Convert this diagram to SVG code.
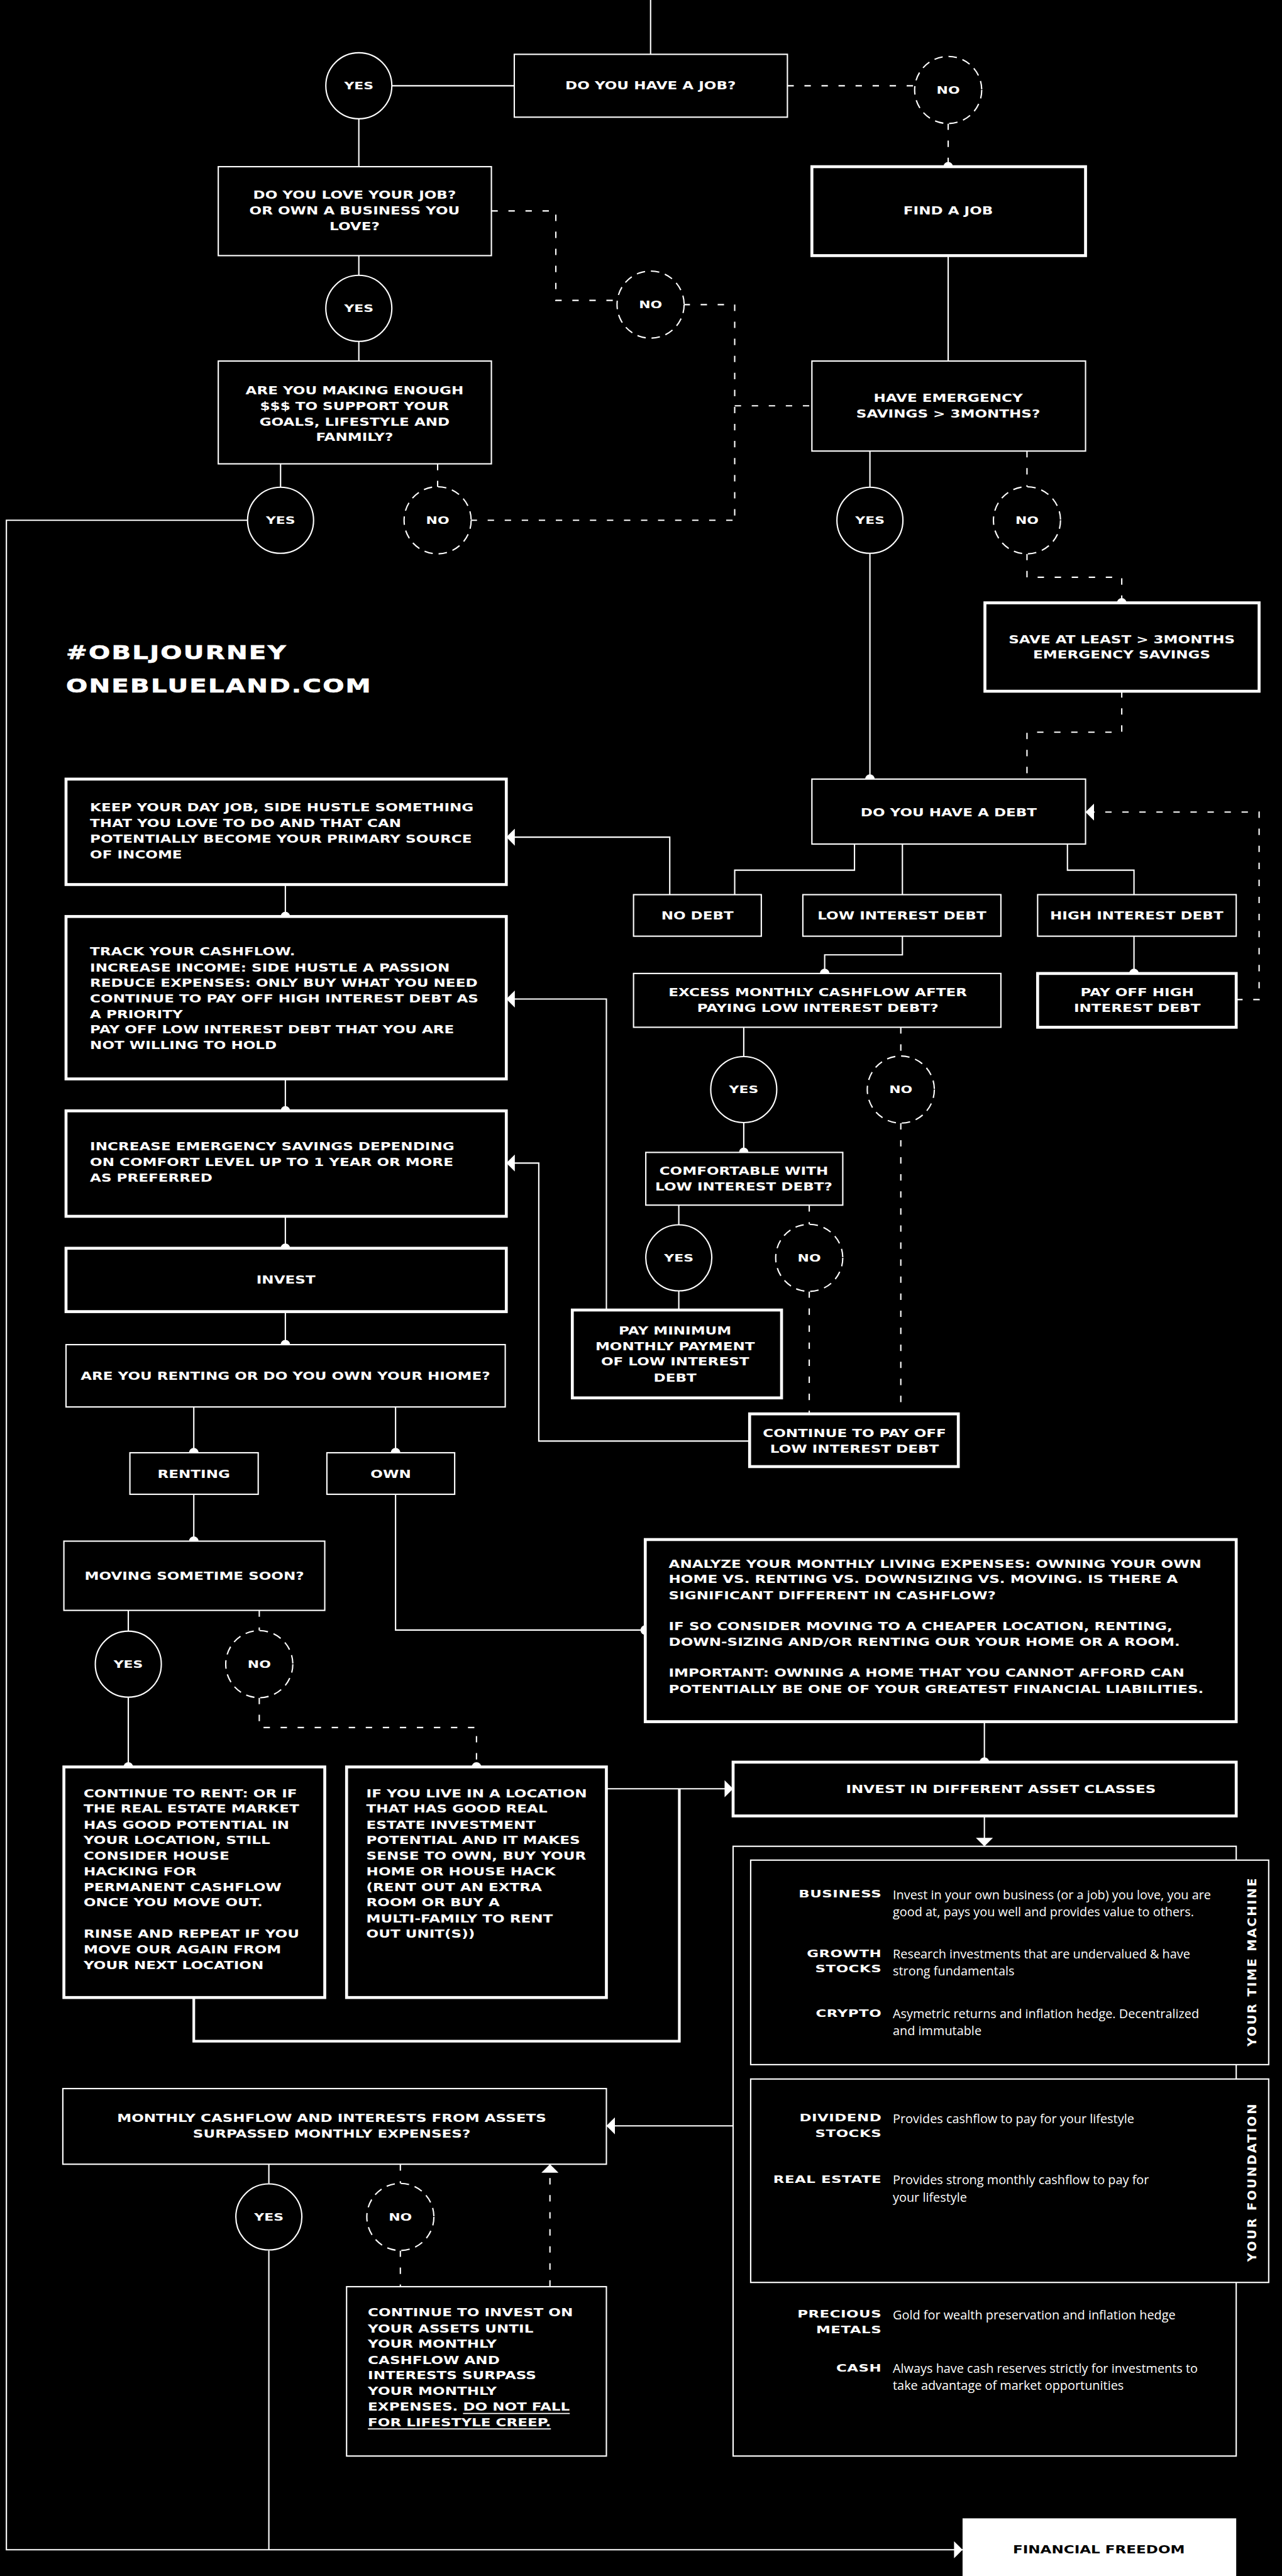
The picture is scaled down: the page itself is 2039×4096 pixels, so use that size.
<svg xmlns="http://www.w3.org/2000/svg" width="2039" height="4096" viewBox="0 0 2039 4096">
<defs>
<style>
.bx{fill:#000;stroke:#fff;stroke-width:2.5}
.bk{fill:#000;stroke:#fff;stroke-width:5.5}
.ln{fill:none;stroke:#fff;stroke-width:2.5}
.lk{fill:none;stroke:#fff;stroke-width:5}
.ds{fill:none;stroke:#fff;stroke-width:2.5;stroke-dasharray:12 20}
.yc{fill:#000;stroke:#fff;stroke-width:2.5}
.nc{fill:#000;stroke:#fff;stroke-width:2.5;stroke-dasharray:16 11}
.dot{fill:#fff}
.t{font-family:"DejaVu Sans","Liberation Sans",sans-serif;font-weight:bold;font-size:20.5px;fill:#fff;text-anchor:middle;dominant-baseline:central}
.l{text-anchor:start}
.c{font-size:19.5px}
.h{font-size:36.6px;letter-spacing:2px;stroke:#fff;stroke-width:0.8}
.lab{font-family:"DejaVu Sans","Liberation Sans",sans-serif;font-weight:bold;font-size:18.3px;fill:#fff;text-anchor:end;letter-spacing:0.4px}
.d{font-family:"Open Sans","Liberation Sans",sans-serif;font-size:23.5px;fill:#fff}
.v{font-family:"DejaVu Sans","Liberation Sans",sans-serif;font-weight:bold;font-size:23px;fill:#fff;text-anchor:middle;dominant-baseline:central}
.u{text-decoration:underline}
</style>
<marker id="ah" viewBox="0 0 16 32" refX="16" refY="16" markerWidth="16" markerHeight="32" markerUnits="userSpaceOnUse" orient="auto"><path d="M0,0 L16,16 L0,32 Z" fill="#fff"/></marker>
</defs>
<rect x="0" y="0" width="2039" height="4096" fill="#000"/>
<g transform="scale(0.84676)">

<g id="connectors">
<path class="ln" d="M1222,0 V102"/>
<path class="ln" d="M736,161 H966"/>
<path class="ln" d="M674,223 V313"/>
<path class="ln" d="M674,480 V517"/>
<path class="ln" d="M674,641 V678"/>
<path class="ln" d="M527,871 V915"/>
<path class="ln" d="M465,977 H12 V4788 H1808" marker-end="url(#ah)"/>
<path class="ln" d="M505,4226 V4788"/>
<path class="ln" d="M1781,480 V678"/>
<path class="ln" d="M1634,847 V915"/>
<path class="ln" d="M1634,1039 V1463"/>
<path class="ln" d="M1605,1585 V1634 H1380 V1680"/>
<path class="ln" d="M1695,1585 V1680"/>
<path class="ln" d="M2005,1585 V1634 H2130 V1680"/>
<path class="ln" d="M1258,1680 V1572 H951" marker-end="url(#ah)"/>
<path class="ln" d="M1695,1758 V1793 H1549 V1828"/>
<path class="ln" d="M2130,1758 V1828"/>
<path class="ln" d="M1397,1929 V1984"/>
<path class="ln" d="M1397,2108 V2164"/>
<path class="ln" d="M1275,2263 V2300"/>
<path class="ln" d="M1275,2424 V2460"/>
<path class="ln" d="M1139,2460 V1876 H951" marker-end="url(#ah)"/>
<path class="ln" d="M1408,2706 H1012 V2184 H951" marker-end="url(#ah)"/>
<path class="ln" d="M536,1661 V1721"/>
<path class="ln" d="M536,2026 V2086"/>
<path class="ln" d="M536,2284 V2344"/>
<path class="ln" d="M536,2463 V2525"/>
<path class="ln" d="M364,2642 V2728"/>
<path class="ln" d="M743,2642 V2728"/>
<path class="ln" d="M364,2806 V2894"/>
<path class="ln" d="M743,2806 V3061 H1212"/>
<path class="ln" d="M241,3024 V3063"/>
<path class="ln" d="M241,3187 V3318"/>
<path class="ln" d="M1849,3233 V3309"/>
<path class="ln" d="M1139,3359 H1377" marker-end="url(#ah)"/>
<path class="lk" d="M364,3751 V3833 H1276 V3359"/>
<path class="ln" d="M1849,3410 V3467" marker-end="url(#ah)"/>
<path class="ln" d="M1377,3992 H1139" marker-end="url(#ah)"/>
<path class="ln" d="M505,4064 V4100"/>

<path class="ds" d="M1479,161 H1719"/>
<path class="ds" d="M1781,232 V313"/>
<path class="ds" d="M923,396 H1044 V564 H1159"/>
<path class="ds" d="M1284,572 H1380 V977"/>
<path class="ds" d="M1380,762 H1525"/>
<path class="ds" d="M822,871 V914"/>
<path class="ds" d="M884,977 H1380"/>
<path class="ds" d="M1929,847 V914"/>
<path class="ds" d="M1929,1040 V1084 H2107 V1132"/>
<path class="ds" d="M2107,1298 V1375 H1929 V1463"/>
<path class="ds" d="M2322,1877 H2365 V1525 H2039" marker-end="url(#ah)"/>
<path class="ds" d="M1692,1929 V1983"/>
<path class="ds" d="M1692,2109 V2655"/>
<path class="ds" d="M1520,2263 V2299"/>
<path class="ds" d="M1520,2425 V2655"/>
<path class="ds" d="M487,3024 V3062"/>
<path class="ds" d="M487,3188 V3244 H895 V3318"/>
<path class="ds" d="M752,4064 V4100"/>
<path class="ds" d="M752,4226 V4294"/>
<path class="ds" d="M1033,4294 V4064" marker-end="url(#ah)"/>

<circle class="dot" cx="1781" cy="313" r="9"/>
<circle class="dot" cx="2107" cy="1132" r="9"/>
<circle class="dot" cx="1634" cy="1463" r="9"/>
<circle class="dot" cx="1549" cy="1828" r="9"/>
<circle class="dot" cx="2130" cy="1828" r="9"/>
<circle class="dot" cx="1397" cy="2164" r="9"/>
<circle class="dot" cx="536" cy="1721" r="9"/>
<circle class="dot" cx="536" cy="2086" r="9"/>
<circle class="dot" cx="536" cy="2344" r="9"/>
<circle class="dot" cx="536" cy="2525" r="9"/>
<circle class="dot" cx="364" cy="2728" r="9"/>
<circle class="dot" cx="743" cy="2728" r="9"/>
<circle class="dot" cx="364" cy="2894" r="9"/>
<circle class="dot" cx="1212" cy="3061" r="9"/>
<circle class="dot" cx="1849" cy="3309" r="9"/>
<circle class="dot" cx="241" cy="3318" r="9"/>
<circle class="dot" cx="895" cy="3318" r="9"/>
</g>

<g id="yes-no">
<g id="yes1"><circle class="yc" cx="674" cy="161" r="62"/><text class="t c" transform="translate(674 0) scale(1.33 1)"><tspan x="0" y="161">YES</tspan></text></g>
<g id="yes2"><circle class="yc" cx="674" cy="579" r="62"/><text class="t c" transform="translate(674 0) scale(1.33 1)"><tspan x="0" y="579">YES</tspan></text></g>
<g id="yes3"><circle class="yc" cx="527" cy="977" r="62"/><text class="t c" transform="translate(527 0) scale(1.33 1)"><tspan x="0" y="977">YES</tspan></text></g>
<g id="yes4"><circle class="yc" cx="1634" cy="977" r="62"/><text class="t c" transform="translate(1634 0) scale(1.33 1)"><tspan x="0" y="977">YES</tspan></text></g>
<g id="yes5"><circle class="yc" cx="1397" cy="2046" r="62"/><text class="t c" transform="translate(1397 0) scale(1.33 1)"><tspan x="0" y="2046">YES</tspan></text></g>
<g id="yes6"><circle class="yc" cx="1275" cy="2362" r="62"/><text class="t c" transform="translate(1275 0) scale(1.33 1)"><tspan x="0" y="2362">YES</tspan></text></g>
<g id="yes7"><circle class="yc" cx="241" cy="3125" r="62"/><text class="t c" transform="translate(241 0) scale(1.33 1)"><tspan x="0" y="3125">YES</tspan></text></g>
<g id="yes8"><circle class="yc" cx="505" cy="4163" r="62"/><text class="t c" transform="translate(505 0) scale(1.33 1)"><tspan x="0" y="4163">YES</tspan></text></g>
<g id="no1"><circle class="nc" cx="1781" cy="169" r="63"/><text class="t c" transform="translate(1781 0) scale(1.33 1)"><tspan x="0" y="169">NO</tspan></text></g>
<g id="no2"><circle class="nc" cx="1222" cy="572" r="63"/><text class="t c" transform="translate(1222 0) scale(1.33 1)"><tspan x="0" y="572">NO</tspan></text></g>
<g id="no3"><circle class="nc" cx="822" cy="977" r="63"/><text class="t c" transform="translate(822 0) scale(1.33 1)"><tspan x="0" y="977">NO</tspan></text></g>
<g id="no4"><circle class="nc" cx="1929" cy="977" r="63"/><text class="t c" transform="translate(1929 0) scale(1.33 1)"><tspan x="0" y="977">NO</tspan></text></g>
<g id="no5"><circle class="nc" cx="1692" cy="2046" r="63"/><text class="t c" transform="translate(1692 0) scale(1.33 1)"><tspan x="0" y="2046">NO</tspan></text></g>
<g id="no6"><circle class="nc" cx="1520" cy="2362" r="63"/><text class="t c" transform="translate(1520 0) scale(1.33 1)"><tspan x="0" y="2362">NO</tspan></text></g>
<g id="no7"><circle class="nc" cx="487" cy="3125" r="63"/><text class="t c" transform="translate(487 0) scale(1.33 1)"><tspan x="0" y="3125">NO</tspan></text></g>
<g id="no8"><circle class="nc" cx="752" cy="4163" r="63"/><text class="t c" transform="translate(752 0) scale(1.33 1)"><tspan x="0" y="4163">NO</tspan></text></g>
</g>

<g id="headline">
<text class="t l h" transform="translate(124 0) scale(1.3 1)"><tspan x="0" y="1224">#OBLJOURNEY</tspan><tspan x="0" y="1287">ONEBLUELAND.COM</tspan></text>
</g>

<g id="n-job"><rect class="bx" x="966" y="102" width="513" height="118"/><text class="t" transform="translate(1222 0) scale(1.33 1)"><tspan x="0" y="161">DO YOU HAVE A JOB?</tspan></text></g>
<g id="n-love"><rect class="bx" x="410" y="313" width="513" height="167"/><text class="t" transform="translate(666 0) scale(1.33 1)"><tspan x="0" y="366">DO YOU LOVE YOUR JOB?</tspan><tspan x="0" y="396">OR OWN A BUSINESS YOU</tspan><tspan x="0" y="425">LOVE?</tspan></text></g>
<g id="n-find"><rect class="bk" x="1525" y="313" width="514" height="167"/><text class="t" transform="translate(1781 0) scale(1.33 1)"><tspan x="0" y="396">FIND A JOB</tspan></text></g>
<g id="n-making"><rect class="bx" x="410" y="678" width="513" height="193"/><text class="t" transform="translate(666 0) scale(1.33 1)"><tspan x="0" y="733">ARE YOU MAKING ENOUGH</tspan><tspan x="0" y="763">$$$ TO SUPPORT YOUR</tspan><tspan x="0" y="792">GOALS, LIFESTYLE AND</tspan><tspan x="0" y="821">FANMILY?</tspan></text></g>
<g id="n-emerg"><rect class="bx" x="1525" y="678" width="514" height="169"/><text class="t" transform="translate(1781 0) scale(1.33 1)"><tspan x="0" y="748">HAVE EMERGENCY</tspan><tspan x="0" y="777">SAVINGS &gt; 3MONTHS?</tspan></text></g>
<g id="n-save"><rect class="bk" x="1850" y="1132" width="515" height="166"/><text class="t" transform="translate(2107 0) scale(1.33 1)"><tspan x="0" y="1201">SAVE AT LEAST &gt; 3MONTHS</tspan><tspan x="0" y="1229">EMERGENCY SAVINGS</tspan></text></g>
<g id="n-debt"><rect class="bx" x="1525" y="1463" width="514" height="122"/><text class="t" transform="translate(1782 0) scale(1.33 1)"><tspan x="0" y="1526">DO YOU HAVE A DEBT</tspan></text></g>
<g id="n-nodebt"><rect class="bx" x="1190" y="1680" width="240" height="78"/><text class="t" transform="translate(1310 0) scale(1.33 1)"><tspan x="0" y="1720">NO DEBT</tspan></text></g>
<g id="n-low"><rect class="bx" x="1508" y="1680" width="372" height="78"/><text class="t" transform="translate(1694 0) scale(1.33 1)"><tspan x="0" y="1720">LOW INTEREST DEBT</tspan></text></g>
<g id="n-high"><rect class="bx" x="1949" y="1680" width="373" height="78"/><text class="t" transform="translate(2135 0) scale(1.33 1)"><tspan x="0" y="1720">HIGH INTEREST DEBT</tspan></text></g>
<g id="n-excess"><rect class="bx" x="1190" y="1828" width="690" height="101"/><text class="t" transform="translate(1536 0) scale(1.33 1)"><tspan x="0" y="1864">EXCESS MONTHLY CASHFLOW AFTER</tspan><tspan x="0" y="1893">PAYING LOW INTEREST DEBT?</tspan></text></g>
<g id="n-payhigh"><rect class="bk" x="1949" y="1828" width="373" height="101"/><text class="t" transform="translate(2136 0) scale(1.33 1)"><tspan x="0" y="1864">PAY OFF HIGH</tspan><tspan x="0" y="1893">INTEREST DEBT</tspan></text></g>
<g id="n-comf"><rect class="bx" x="1213" y="2164" width="370" height="99"/><text class="t" transform="translate(1397 0) scale(1.33 1)"><tspan x="0" y="2199">COMFORTABLE WITH</tspan><tspan x="0" y="2228">LOW INTEREST DEBT?</tspan></text></g>
<g id="n-paymin"><rect class="bk" x="1075" y="2460" width="393" height="165"/><text class="t" transform="translate(1268 0) scale(1.33 1)"><tspan x="0" y="2499">PAY MINIMUM</tspan><tspan x="0" y="2528">MONTHLY PAYMENT</tspan><tspan x="0" y="2557">OF LOW INTEREST</tspan><tspan x="0" y="2587">DEBT</tspan></text></g>
<g id="n-contpay"><rect class="bk" x="1408" y="2655" width="392" height="99"/><text class="t" transform="translate(1605 0) scale(1.33 1)"><tspan x="0" y="2691">CONTINUE TO PAY OFF</tspan><tspan x="0" y="2721">LOW INTEREST DEBT</tspan></text></g>
<g id="n-keep"><rect class="bk" x="124" y="1463" width="827" height="198"/><text class="t l" transform="translate(169 0) scale(1.33 1)"><tspan x="0" y="1517">KEEP YOUR DAY JOB, SIDE HUSTLE SOMETHING</tspan><tspan x="0" y="1546">THAT YOU LOVE TO DO AND THAT CAN</tspan><tspan x="0" y="1575">POTENTIALLY BECOME YOUR PRIMARY SOURCE</tspan><tspan x="0" y="1605">OF INCOME</tspan></text></g>
<g id="n-track"><rect class="bk" x="124" y="1721" width="827" height="305"/><text class="t l" transform="translate(169 0) scale(1.33 1)"><tspan x="0" y="1787">TRACK YOUR CASHFLOW.</tspan><tspan x="0" y="1817">INCREASE INCOME: SIDE HUSTLE A PASSION</tspan><tspan x="0" y="1846">REDUCE EXPENSES: ONLY BUY WHAT YOU NEED</tspan><tspan x="0" y="1876">CONTINUE TO PAY OFF HIGH INTEREST DEBT AS</tspan><tspan x="0" y="1905">A PRIORITY</tspan><tspan x="0" y="1933">PAY OFF LOW INTEREST DEBT THAT YOU ARE</tspan><tspan x="0" y="1963">NOT WILLING TO HOLD</tspan></text></g>
<g id="n-increase"><rect class="bk" x="124" y="2086" width="827" height="198"/><text class="t l" transform="translate(169 0) scale(1.33 1)"><tspan x="0" y="2153">INCREASE EMERGENCY SAVINGS DEPENDING</tspan><tspan x="0" y="2183">ON COMFORT LEVEL UP TO 1 YEAR OR MORE</tspan><tspan x="0" y="2212">AS PREFERRED</tspan></text></g>
<g id="n-invest"><rect class="bk" x="124" y="2344" width="827" height="119"/><text class="t" transform="translate(537 0) scale(1.33 1)"><tspan x="0" y="2403">INVEST</tspan></text></g>
<g id="n-rentown"><rect class="bx" x="124" y="2525" width="825" height="117"/><text class="t" transform="translate(536 0) scale(1.33 1)"><tspan x="0" y="2584">ARE YOU RENTING OR DO YOU OWN YOUR HIOME?</tspan></text></g>
<g id="n-renting"><rect class="bx" x="244" y="2728" width="241" height="78"/><text class="t" transform="translate(364 0) scale(1.33 1)"><tspan x="0" y="2768">RENTING</tspan></text></g>
<g id="n-own"><rect class="bx" x="614" y="2728" width="240" height="78"/><text class="t" transform="translate(734 0) scale(1.33 1)"><tspan x="0" y="2768">OWN</tspan></text></g>
<g id="n-moving"><rect class="bx" x="120" y="2894" width="490" height="130"/><text class="t" transform="translate(365 0) scale(1.33 1)"><tspan x="0" y="2960">MOVING SOMETIME SOON?</tspan></text></g>
<g id="n-analyze"><rect class="bk" x="1212" y="2891" width="1110" height="342"/><text class="t l" transform="translate(1256 0) scale(1.33 1)"><tspan x="0" y="2937">ANALYZE YOUR MONTHLY LIVING EXPENSES: OWNING YOUR OWN</tspan><tspan x="0" y="2966">HOME VS. RENTING VS. DOWNSIZING VS. MOVING. IS THERE A</tspan><tspan x="0" y="2996">SIGNIFICANT DIFFERENT IN CASHFLOW?</tspan><tspan x="0" y="3054">IF SO CONSIDER MOVING TO A CHEAPER LOCATION, RENTING,</tspan><tspan x="0" y="3084">DOWN-SIZING AND/OR RENTING OUR YOUR HOME OR A ROOM.</tspan><tspan x="0" y="3142">IMPORTANT: OWNING A HOME THAT YOU CANNOT AFFORD CAN</tspan><tspan x="0" y="3172">POTENTIALLY BE ONE OF YOUR GREATEST FINANCIAL LIABILITIES.</tspan></text></g>
<g id="n-contrent"><rect class="bk" x="120" y="3318" width="490" height="433"/><text class="t l" transform="translate(157 0) scale(1.33 1)"><tspan x="0" y="3368">CONTINUE TO RENT: OR IF</tspan><tspan x="0" y="3397">THE REAL ESTATE MARKET</tspan><tspan x="0" y="3427">HAS GOOD POTENTIAL IN</tspan><tspan x="0" y="3456">YOUR LOCATION, STILL</tspan><tspan x="0" y="3485">CONSIDER HOUSE</tspan><tspan x="0" y="3515">HACKING FOR</tspan><tspan x="0" y="3544">PERMANENT CASHFLOW</tspan><tspan x="0" y="3573">ONCE YOU MOVE OUT.</tspan><tspan x="0" y="3632">RINSE AND REPEAT IF YOU</tspan><tspan x="0" y="3661">MOVE OUR AGAIN FROM</tspan><tspan x="0" y="3691">YOUR NEXT LOCATION</tspan></text></g>
<g id="n-iflive"><rect class="bk" x="651" y="3318" width="488" height="433"/><text class="t l" transform="translate(688 0) scale(1.33 1)"><tspan x="0" y="3368">IF YOU LIVE IN A LOCATION</tspan><tspan x="0" y="3397">THAT HAS GOOD REAL</tspan><tspan x="0" y="3427">ESTATE INVESTMENT</tspan><tspan x="0" y="3456">POTENTIAL AND IT MAKES</tspan><tspan x="0" y="3485">SENSE TO OWN, BUY YOUR</tspan><tspan x="0" y="3515">HOME OR HOUSE HACK</tspan><tspan x="0" y="3544">(RENT OUT AN EXTRA</tspan><tspan x="0" y="3573">ROOM OR BUY A</tspan><tspan x="0" y="3603">MULTI-FAMILY TO RENT</tspan><tspan x="0" y="3632">OUT UNIT(S))</tspan></text></g>
<g id="n-investdiff"><rect class="bk" x="1377" y="3309" width="945" height="101"/><text class="t" transform="translate(1880 0) scale(1.33 1)"><tspan x="0" y="3360">INVEST IN DIFFERENT ASSET CLASSES</tspan></text></g>

<g id="n-assets">
<rect class="bx" x="1377" y="3467" width="945" height="1145"/>
<g id="n-timemachine">
<rect class="bx" x="1410" y="3493" width="973" height="384"/>
<text class="lab" transform="translate(1656 0) scale(1.48 1)"><tspan x="0" y="3563">BUSINESS</tspan></text>
<text class="d"><tspan x="1677" y="3567">Invest in your own business (or a job) you love, you are</tspan><tspan x="1677" y="3598">good at, pays you well and provides value to others.</tspan></text>
<text class="lab" transform="translate(1656 0) scale(1.48 1)"><tspan x="0" y="3675">GROWTH</tspan><tspan x="0" y="3704">STOCKS</tspan></text>
<text class="d"><tspan x="1677" y="3678">Research investments that are undervalued &amp; have</tspan><tspan x="1677" y="3710">strong fundamentals</tspan></text>
<text class="lab" transform="translate(1656 0) scale(1.48 1)"><tspan x="0" y="3787">CRYPTO</tspan></text>
<text class="d"><tspan x="1677" y="3790">Asymetric returns and inflation hedge. Decentralized</tspan><tspan x="1677" y="3822">and immutable</tspan></text>
<text class="v" transform="translate(2352 3685) rotate(-90)" textLength="316" lengthAdjust="spacing">YOUR TIME MACHINE</text>
</g>
<g id="n-foundation">
<rect class="bx" x="1410" y="3904" width="973" height="382"/>
<text class="lab" transform="translate(1656 0) scale(1.48 1)"><tspan x="0" y="3984">DIVIDEND</tspan><tspan x="0" y="4013">STOCKS</tspan></text>
<text class="d"><tspan x="1677" y="3987">Provides cashflow to pay for your lifestyle</tspan></text>
<text class="lab" transform="translate(1656 0) scale(1.48 1)"><tspan x="0" y="4099">REAL ESTATE</tspan></text>
<text class="d"><tspan x="1677" y="4102">Provides strong monthly cashflow to pay for</tspan><tspan x="1677" y="4134">your lifestyle</tspan></text>
<text class="v" transform="translate(2352 4099) rotate(-90)" textLength="296" lengthAdjust="spacing">YOUR FOUNDATION</text>
</g>
<text class="lab" transform="translate(1656 0) scale(1.48 1)"><tspan x="0" y="4352">PRECIOUS</tspan><tspan x="0" y="4381">METALS</tspan></text>
<text class="d"><tspan x="1677" y="4355">Gold for wealth preservation and inflation hedge</tspan></text>
<text class="lab" transform="translate(1656 0) scale(1.48 1)"><tspan x="0" y="4453">CASH</tspan></text>
<text class="d"><tspan x="1677" y="4456">Always have cash reserves strictly for investments to</tspan><tspan x="1677" y="4488">take advantage of market opportunities</tspan></text>
</g>

<g id="n-monthly"><rect class="bx" x="118" y="3922" width="1021" height="142"/><text class="t" transform="translate(623 0) scale(1.33 1)"><tspan x="0" y="3977">MONTHLY CASHFLOW AND INTERESTS FROM ASSETS</tspan><tspan x="0" y="4007">SURPASSED MONTHLY EXPENSES?</tspan></text></g>
<g id="n-continvest"><rect class="bx" x="651" y="4294" width="488" height="318"/><text class="t l" transform="translate(691 0) scale(1.33 1)"><tspan x="0" y="4343">CONTINUE TO INVEST ON</tspan><tspan x="0" y="4373">YOUR ASSETS UNTIL</tspan><tspan x="0" y="4402">YOUR MONTHLY</tspan><tspan x="0" y="4432">CASHFLOW AND</tspan><tspan x="0" y="4461">INTERESTS SURPASS</tspan><tspan x="0" y="4490">YOUR MONTHLY</tspan><tspan x="0" y="4520">EXPENSES. <tspan class="u">DO NOT FALL</tspan></tspan><tspan x="0" y="4549" class="u">FOR LIFESTYLE CREEP.</tspan></text></g>
<g id="n-freedom"><rect x="1808" y="4729" width="514" height="115" fill="#fff"/><text class="t" style="fill:#000" transform="translate(2064 0) scale(1.33 1)"><tspan x="0" y="4788">FINANCIAL FREEDOM</tspan></text></g>

</g>
</svg>
